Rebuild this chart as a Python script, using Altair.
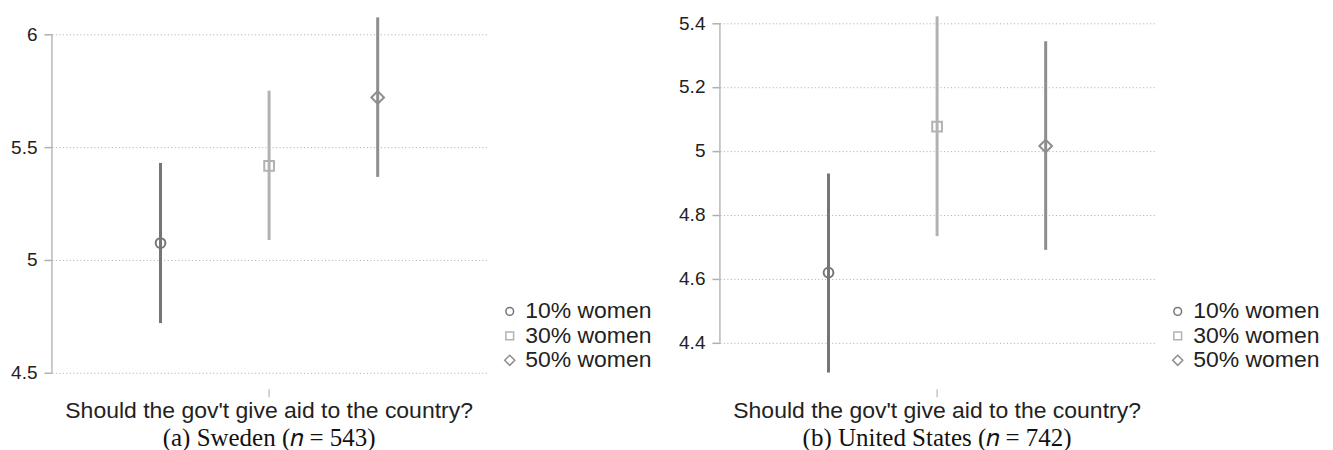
import altair as alt
import pandas as pd

question = "Should the gov't give aid to the country?"
groups = ["10% women", "30% women", "50% women"]

# Sweden (a)
se_mean = [5.075, 5.417, 5.72]
se_lo = [4.72, 5.088, 5.368]
se_hi = [5.43, 5.75, 6.075]
se_ticks = [4.5, 5, 5.5, 6]

# United States (b)
us_mean = [4.619, 5.076, 5.015]
us_lo = [4.306, 4.733, 4.69]
us_hi = [4.929, 5.421, 5.343]
us_ticks = [4.4, 4.6, 4.8, 5, 5.2, 5.4]

captions = ["(a) Sweden (\U0001D45B = 543)", "(b) United States (\U0001D45B = 742)"]

colors = ["#767676", "#b2b2b2", "#8e8e8e"]
shapes = ["circle", "square", "M-1.3,0L0,-1.3L1.3,0L0,1.3Z"]

W, H = 435, 375


def legend():
    return alt.Legend(title=None, orient="none", legendX=W + 12, legendY=286,
                      labelFontSize=23, labelFont="Liberation Sans",
                      labelColor="#222222", symbolSize=60,
                      symbolStrokeWidth=1.5, rowPadding=0.5,
                      labelOffset=4, padding=0)


def panel(mean, lo, hi, ticks, domain, caption):
    df = pd.DataFrame({"question": [question] * 3, "group": groups,
                       "mean": mean, "lo": lo, "hi": hi})
    base = alt.Chart(df)
    yscale = alt.Scale(domain=domain, nice=False, zero=False)
    xenc = alt.X("question:N", title=None,
                 scale=alt.Scale(paddingInner=0, paddingOuter=0),
                 axis=alt.Axis(domain=False, grid=False, tickSize=8, tickColor="#aaaaaa",
                               tickWidth=1, labelAngle=0, labelFontSize=23, labelPadding=3,
                               labelLimit=800, labelColor="#222222",
                               labelFont="Liberation Sans"))
    xoff = alt.XOffset("group:N", scale=alt.Scale(paddingOuter=0.5, paddingInner=0))
    color = alt.Color("group:N", scale=alt.Scale(domain=groups, range=colors),
                      legend=legend())
    shape = alt.Shape("group:N", scale=alt.Scale(domain=groups, range=shapes),
                      legend=legend())

    axis_line = alt.Chart(pd.DataFrame({"a": [ticks[0]], "b": [ticks[-1]]})).mark_rule(
        color="#b8b8b8", strokeWidth=1.5
    ).encode(
        x=alt.value(0),
        y=alt.Y("a:Q", scale=yscale,
                axis=alt.Axis(values=ticks, format="~g", title=None, domain=False,
                              grid=True, gridDash=[1, 2.5], gridColor="#aaaaaa", gridWidth=1,
                              tickSize=8, tickColor="#b0b0b0", tickWidth=1.5,
                              labelFontSize=19, labelFont="Liberation Sans",
                              labelColor="#222222", labelPadding=7)),
        y2="b:Q",
    )
    rules = base.mark_rule(strokeWidth=3).encode(
        x=xenc, xOffset=xoff, y=alt.Y("lo:Q", scale=yscale), y2="hi:Q", color=color
    )
    pts = base.mark_point(filled=False, size=95, strokeWidth=2, opacity=1).encode(
        x=xenc, xOffset=xoff, y=alt.Y("mean:Q", scale=yscale), color=color, shape=shape
    )
    return alt.layer(axis_line, rules, pts).properties(
        width=W, height=H,
        title=alt.TitleParams(caption, orient="bottom", anchor="middle", frame="group",
                              font="Liberation Serif", fontSize=25, fontWeight="normal",
                              color="#111111", offset=3),
    )


left = panel(se_mean, se_lo, se_hi, se_ticks, [4.429, 6.0885], captions[0])
right = panel(us_mean, us_lo, us_hi, us_ticks, [4.2553, 5.4272], captions[1])

chart = alt.hconcat(left, right, spacing=26).resolve_scale(
    y="independent", x="independent", color="independent", shape="independent"
).resolve_legend(color="independent", shape="independent").properties(
    padding={"left": 2, "top": 5, "right": 5, "bottom": 0}
).configure_view(stroke=None)

chart.save("out.html", embed_options={"renderer": "svg", "actions": False})
